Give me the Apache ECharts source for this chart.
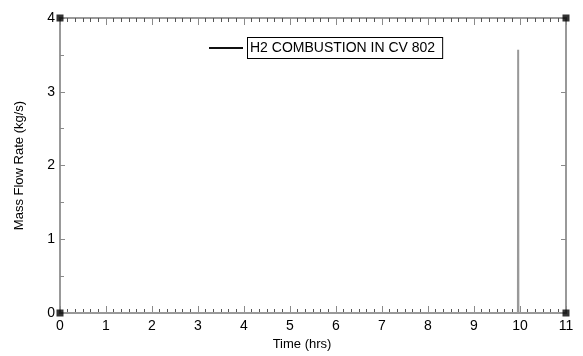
<!DOCTYPE html>
<html><head><meta charset="utf-8">
<script src="https://cdn.jsdelivr.net/npm/echarts@6/dist/echarts.min.js"></script>
<style>html,body{margin:0;padding:0;background:#fff}#c{width:583px;height:356px}</style>
</head><body><div id="c"></div>
<script>
var timeHrs = [0, 9.955, 9.96, 9.965, 11];
var massFlow = [0, 0, 3.57, 0, 0];
var seriesName = 'H2 COMBUSTION IN CV 802';
var cornerX = [0, 0, 11, 11];
var cornerY = [0, 4, 0, 4];

var axisGray = '#999999';
var tickGray = '#8a8a8a';
var minorGray = '#555555';
var font = 'Liberation Sans, Arial, sans-serif';
var chart = echarts.init(document.getElementById('c'), null, {renderer:'canvas'});
function xAx(pos, showLabel, name) {
  return {
    type:'value', position:pos, min:0, max:11, interval:1,
    name: name || '', nameLocation:'middle', nameGap:22,
    nameTextStyle:{color:'#000', fontFamily:font, fontSize:13, padding:[0,22,0,0]},
    axisLine:{show:true, onZero:false, lineStyle:{color:axisGray, width:2}},
    axisTick:{show:true, inside:true, length:7, lineStyle:{color:tickGray, width:1}},
    minorTick:{show:true, splitNumber:6, length:4, lineStyle:{color:minorGray, width:1}},
    axisLabel:{show:showLabel, color:'#000', fontFamily:font, fontSize:14, margin:6},
    splitLine:{show:false}
  };
}
function yAx(pos, showLabel, name, minor) {
  return {
    type:'value', position:pos, min:0, max:4, interval:1,
    name: name || '', nameLocation:'middle', nameGap:34,
    nameTextStyle:{color:'#000', fontFamily:font, fontSize:13},
    axisLine:{show:true, onZero:false, lineStyle:{color:axisGray, width:2}},
    axisTick:{show:true, inside:true, length:5, lineStyle:{color:tickGray, width:1}},
    minorTick:{show:minor, splitNumber:2, length:4, lineStyle:{color:tickGray, width:1}},
    axisLabel:{show:showLabel, color:'#000', fontFamily:font, fontSize:14, margin:5},
    splitLine:{show:false}
  };
}
chart.setOption({
  animation:false,
  backgroundColor:'#fff',
  grid:{left:60, right:17, top:18, bottom:43, containLabel:false},
  xAxis:[xAx('bottom', true, 'Time (hrs)'), xAx('top', false, '')],
  yAxis:[yAx('left', true, 'Mass Flow Rate (kg/s)', true), yAx('right', false, '', false)],
  legend:{
    show:true, left:209, top:37, padding:0, itemWidth:34, itemHeight:2, itemGap:10, icon:'rect',
    data:[{name:seriesName, itemStyle:{color:'#111'}}],
    textStyle:{color:'#000', fontFamily:font, fontSize:14, lineHeight:14, borderColor:'#000', borderWidth:1, padding:[3,7,3,2], backgroundColor:'#fff'}
  },
  series:[
    {name:seriesName, type:'line', symbol:'none', xAxisIndex:0, yAxisIndex:0, z:1,
     data: timeHrs.map(function(t,i){return [t, massFlow[i]];}),
     lineStyle:{color:'#999', width:2}, itemStyle:{color:'#999'}},
    {name:'corners', type:'scatter', symbol:'rect', symbolSize:7, clip:false, silent:true,
     z:5, data: cornerX.map(function(x,i){return [x, cornerY[i]];}),
     itemStyle:{color:'#000'}}
  ]
});
</script></body></html>
